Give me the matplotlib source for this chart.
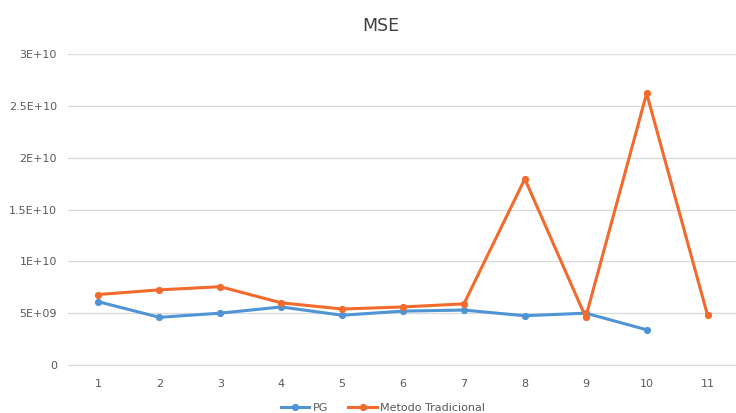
import matplotlib
matplotlib.use('Agg')
import matplotlib.pyplot as plt
from matplotlib.ticker import FixedLocator

# ── data ───────────────────────────────────────────────
categories = [1, 2, 3, 4, 5, 6, 7, 8, 9, 10, 11]
pg_values = [6.1e9, 4.6e9, 5.0e9, 5.6e9, 4.8e9, 5.2e9, 5.3e9, 4.75e9, 5.0e9, 3.4e9]
trad_values = [6.8e9, 7.25e9, 7.55e9, 6.0e9, 5.4e9, 5.6e9, 5.9e9, 17.95e9, 4.6e9, 26.2e9, 4.8e9]
ytick_vals = [0, 5e9, 1e10, 1.5e10, 2e10, 2.5e10, 3e10]
ytick_labels = ['0', '5E+09', '1E+10', '1.5E+10', '2E+10', '2.5E+10', '3E+10']

BLUE = '#4F94D4'
ORANGE = '#F26B2C'
GRAY = '#595959'

fig = plt.figure(figsize=(7.36, 4.13), dpi=100)
ax = fig.add_axes([68 / 736, 48 / 413, 670 / 736, 311 / 413])

ax.plot(categories[:len(pg_values)], pg_values, color=BLUE, lw=2.2,
        marker='o', ms=4.2, label='PG')
ax.plot(categories, trad_values, color=ORANGE, lw=2.2,
        marker='o', ms=4.2, label='Metodo Tradicional')

ax.set_xlim(0.5, 11.5)
ax.set_ylim(0, 3e10)
ax.yaxis.set_major_locator(FixedLocator(ytick_vals))
ax.set_yticklabels(ytick_labels)
ax.set_xticks(categories)
ax.set_xticklabels([str(c) for c in categories])
ax.tick_params(axis='both', length=0, labelsize=8, colors=GRAY)
ax.tick_params(axis='y', pad=8)
ax.tick_params(axis='x', pad=10)

ax.grid(axis='y', color='#D9D9D9', lw=0.9)
ax.set_axisbelow(True)
for s in ['top', 'right', 'left']:
    ax.spines[s].set_visible(False)
ax.spines['bottom'].set_color('#D9D9D9')

fig.text(381 / 736, 1 - 26 / 413, 'MSE', ha='center', va='center',
         fontsize=12.5, color='#404040')

fig.legend(loc='center', bbox_to_anchor=(383 / 736, 1 - 408 / 413),
           ncol=2, frameon=False, fontsize=8, labelcolor=GRAY,
           handlelength=2.6, columnspacing=1.8, handletextpad=0.3)

fig.savefig('out.png', dpi=100, facecolor='white')
